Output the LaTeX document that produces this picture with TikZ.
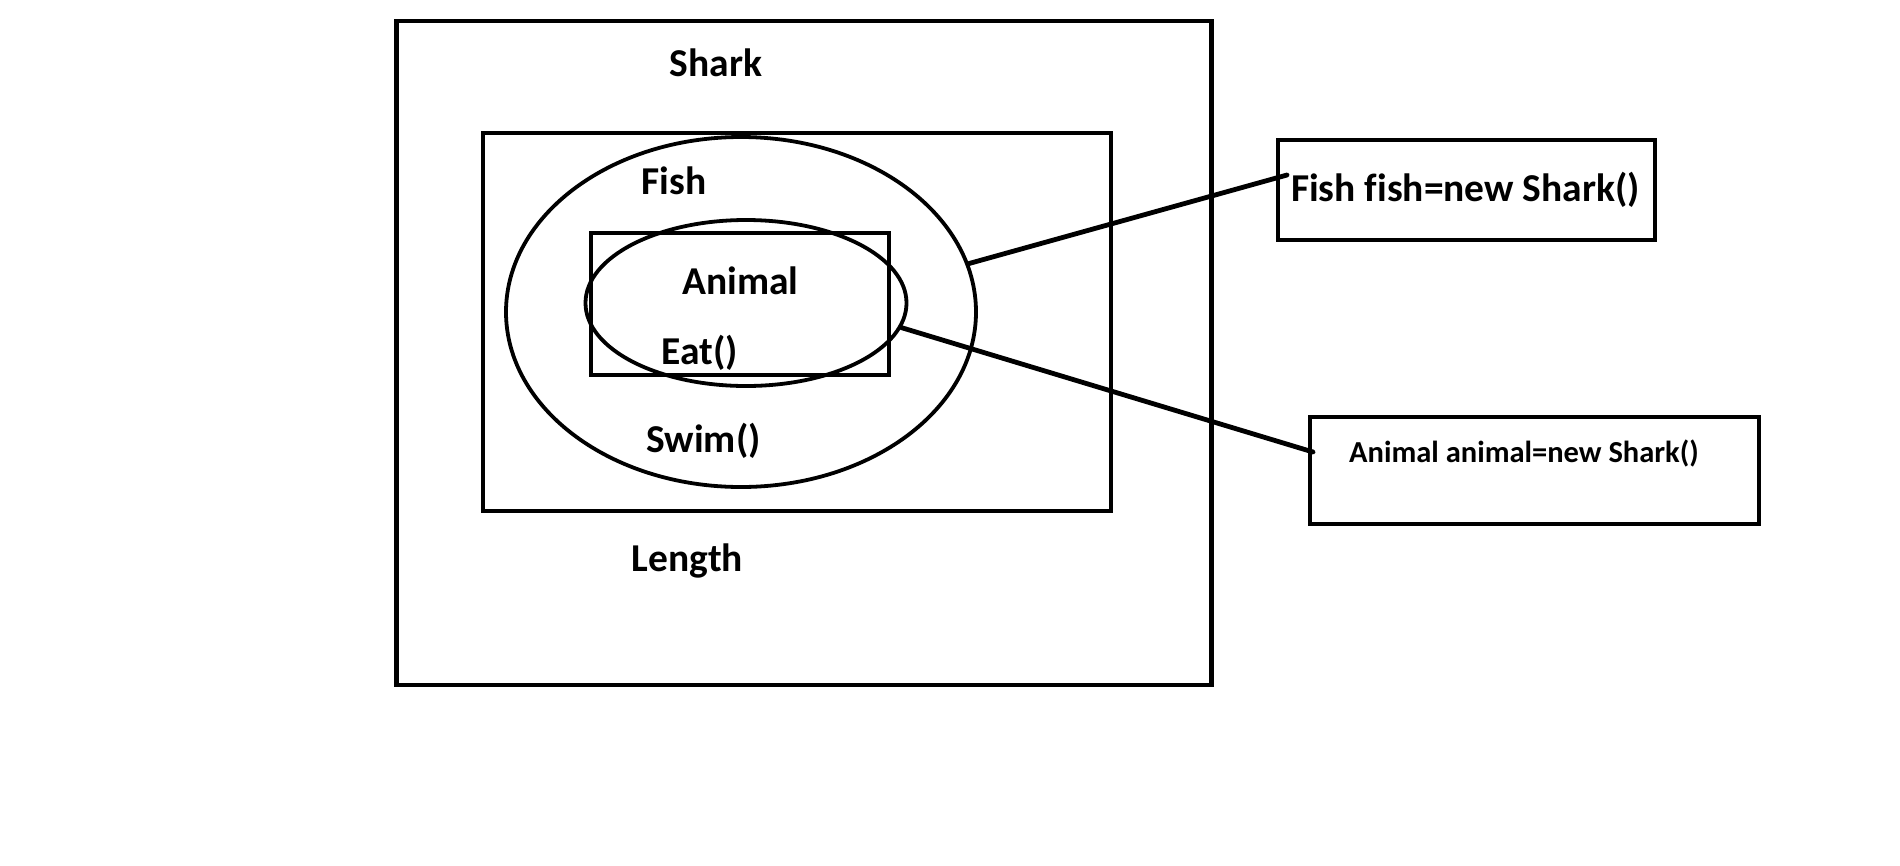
\documentclass[tikz,border=0pt]{standalone}
\usepackage{fontspec}
\setmainfont{Carlito}[Ligatures=NoCommon]
\usetikzlibrary{shapes.geometric}
\tikzset{
  frame/.style={draw, line width=4.8pt, rectangle, inner sep=0pt},
  thinframe/.style={draw, line width=4.2pt, rectangle, inner sep=0pt},
  oval/.style={draw, line width=3.8pt, ellipse, inner sep=0pt},
  lbl/.style={font=\bfseries\fontsize{39.5}{46}\selectfont, inner sep=0pt, anchor=base},
  smalllbl/.style={font=\bfseries\fontsize{30.5}{37}\selectfont, inner sep=0pt, anchor=base},
  link/.style={line width=4.8pt, line cap=round}
}
\begin{document}
\begin{tikzpicture}[x=1pt, y=-1pt]
\useasboundingbox[fill=white] (0,0) rectangle (1900,865);
% outer and inner rectangles
\node[frame, minimum width=815pt, minimum height=664pt] (shark) at (804,353) {};
\node[frame, minimum width=628pt, minimum height=378pt] (fishbox) at (797,322) {};
\node[oval, minimum width=470pt, minimum height=350pt] (fish) at (741,312) {};
\node[thinframe, minimum width=298pt, minimum height=142pt] (animalbox) at (740,304) {};
\node[oval, minimum width=321pt, minimum height=166pt] (animal) at (746,303) {};
% right boxes
\node[frame, minimum width=377pt, minimum height=100pt] (box1) at (1466.5,190) {};
\node[frame, minimum width=449pt, minimum height=107pt] (box2) at (1534.5,470.5) {};
% labels
\node[lbl] (tshark) at (716,76) {Shark};
\node[lbl] (tfish) at (674,194) {Fish};
\node[lbl] (tanimal) at (740.5,294) {Animal};
\node[lbl] (teat) at (700,364) {Eat()};
\node[lbl] (tswim) at (703.5,452) {Swim()};
\node[lbl] (tlength) at (687.5,571) {Length};
\node[lbl] (tbox1) at (1465.5,201) {Fish fish=new Shark()};
\node[smalllbl] (tbox2) at (1524,462) {Animal animal=new Shark()};
% connectors
\coordinate (e1) at (1287,175);
\coordinate (e2) at (1313,452);
\draw[link] (fish.12) -- (e1);
\draw[link] (animal.-9) -- (e2);
\end{tikzpicture}
\end{document}
